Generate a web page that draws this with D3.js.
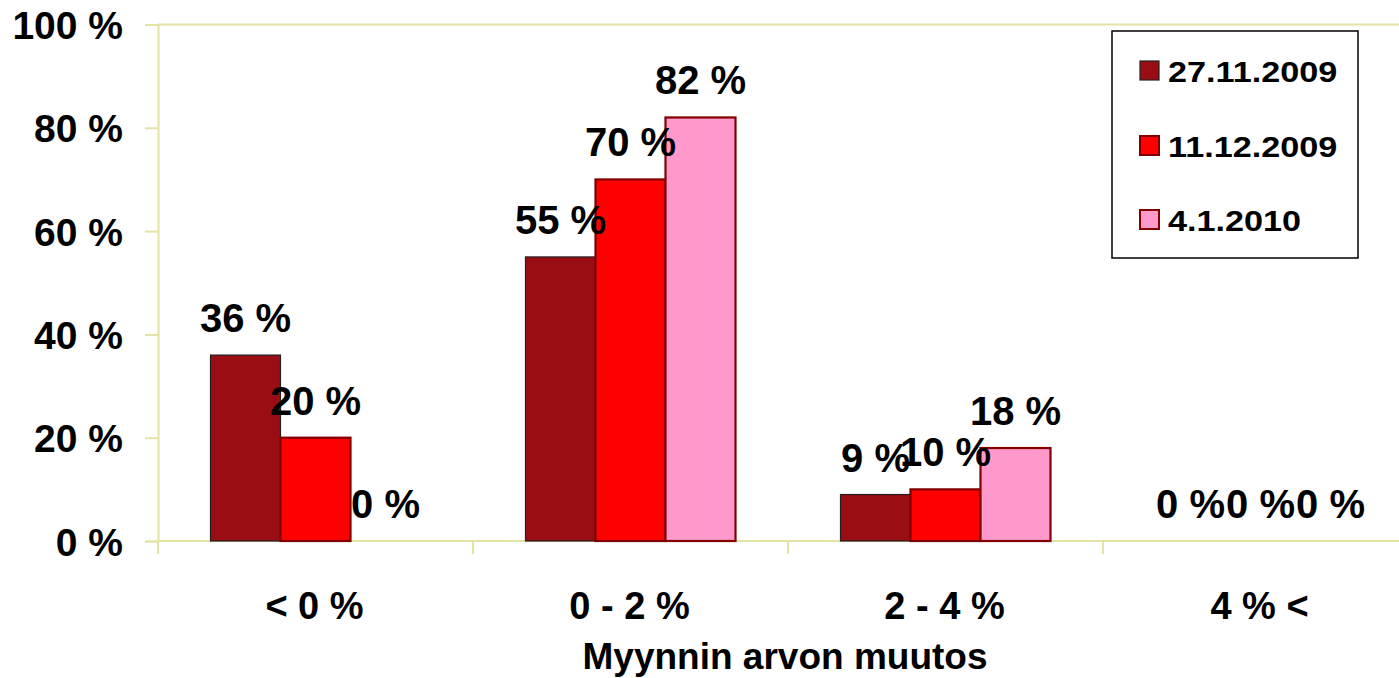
<!DOCTYPE html>
<html><head><meta charset="utf-8">
<script src="https://cdn.jsdelivr.net/npm/d3@7"></script>
<style>
html,body{margin:0;padding:0;background:#fff;}
svg text{font-family:"Liberation Sans",Arial,sans-serif;font-weight:bold;fill:#000;}
</style></head>
<body>
<svg id="c" width="1399" height="678"></svg>
<script>
const categories = ["< 0 %", "0 - 2 %", "2 - 4 %", "4 % <"];
const seriesNames = ["27.11.2009", "11.12.2009", "4.1.2010"];
const s1 = [36, 55, 9, 0];
const s2 = [20, 70, 10, 0];
const s3 = [0, 82, 18, 0];
const yTicks = [0, 20, 40, 60, 80, 100];
const xTitle = "Myynnin arvon muutos";
const fills = ["#9B0D14", "#FF0000", "#FF99CC"];
const strokes = ["#222222", "#800000", "#800000"];

const series = [s1, s2, s3];
const svg = d3.select("#c");
const L = 158, R = 1418, T = 24.5, B = 541;
const gridCol = "#E3E3A6";

const x0 = d3.scaleBand().domain(categories).range([L, R]).paddingInner(1/3).paddingOuter(1/6);
const x1 = d3.scaleBand().domain(d3.range(series.length)).range([0, x0.bandwidth()]);
const y = d3.scaleLinear().domain([0, 100]).range([B, T]);

// plot top border
svg.append("line").attr("x1", L).attr("x2", R).attr("y1", y(100)).attr("y2", y(100))
  .attr("stroke", gridCol).attr("stroke-width", 2);

// y axis
const yAxis = svg.append("g").attr("transform", `translate(${L},0)`)
  .call(d3.axisLeft(y).tickValues(yTicks).tickSize(13).tickPadding(22).tickFormat(d => d + " %"));
yAxis.select(".domain").attr("stroke", gridCol).attr("stroke-width", 2);
yAxis.selectAll(".tick line").attr("stroke", gridCol).attr("stroke-width", 2);
yAxis.selectAll(".tick text").attr("font-size", 39).attr("dy", "0.36em")
  .style("font-family", "'Liberation Sans',Arial,sans-serif").style("font-weight", "bold");

// x axis
const xEdge = d3.scaleLinear().domain([0, categories.length]).range([L, R]);
const xg = svg.append("g");
xg.append("line").attr("x1", L).attr("x2", R).attr("y1", B).attr("y2", B)
  .attr("stroke", gridCol).attr("stroke-width", 2);
xg.selectAll("line.t").data(d3.range(categories.length + 1)).join("line")
  .attr("class", "t").attr("x1", d => xEdge(d)).attr("x2", d => xEdge(d))
  .attr("y1", B).attr("y2", B + 13).attr("stroke", gridCol).attr("stroke-width", 2);
xg.selectAll("text").data(categories).join("text")
  .attr("x", d => x0(d) + x0.bandwidth() / 2 - 1).attr("y", 619)
  .attr("text-anchor", "middle").attr("font-size", 38).text(d => d);

svg.append("text").attr("x", (L + R) / 2 - 3).attr("y", 669).attr("text-anchor", "middle")
  .attr("font-size", 37).text(xTitle);

// bars
const groups = svg.selectAll("g.cat").data(categories).join("g")
  .attr("class", "cat").attr("transform", d => `translate(${x0(d)},0)`);
groups.each(function(c, ci) {
  const g = d3.select(this);
  series.forEach((s, si) => {
    const v = s[ci];
    if (v > 0) {
      g.append("rect").attr("x", x1(si)).attr("y", y(v))
        .attr("width", x1.bandwidth()).attr("height", B - y(v))
        .attr("fill", fills[si]).attr("stroke", strokes[si])
        .attr("stroke-width", si === 0 ? 1.2 : 2.2);
    }
  });
  series.forEach((s, si) => {
    const v = s[ci];
    g.append("text").attr("x", x1(si) + x1.bandwidth() / 2).attr("y", y(v) - 23)
      .attr("text-anchor", "middle").attr("font-size", 40).text(v + " %");
  });
});

// legend
const lg = svg.append("g");
lg.append("rect").attr("x", 1112).attr("y", 31).attr("width", 246).attr("height", 227)
  .attr("fill", "#fff").attr("stroke", "#000").attr("stroke-width", 1.5);
const rowY = [71, 146, 220];
seriesNames.forEach((n, i) => {
  lg.append("rect").attr("x", 1140).attr("y", rowY[i] - 10).attr("width", 19).attr("height", 19)
    .attr("fill", fills[i]).attr("stroke", strokes[i]).attr("stroke-width", i === 0 ? 1.2 : 2);
  lg.append("text").attr("transform", `translate(1168,${rowY[i] + 11}) scale(1.14,1)`)
    .attr("font-size", 30).text(n);
});
</script>
</body></html>
